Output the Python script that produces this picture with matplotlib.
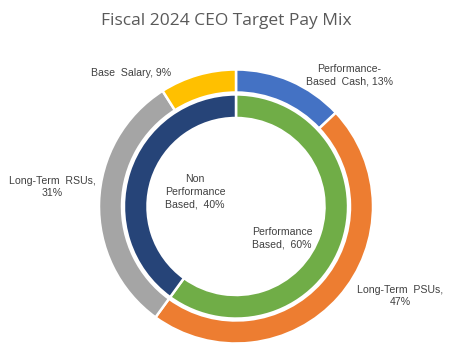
import matplotlib
matplotlib.use("Agg")
import matplotlib.pyplot as plt

# outer ring: pay elements
outer_labels = ["Performance-\nBased  Cash,", "Long-Term  PSUs,\n", "Long-Term  RSUs,\n", "Base  Salary,"]
outer_values = [13, 47, 31, 9]
outer_colors = ["#4472C4", "#ED7D31", "#A5A5A5", "#FFC000"]

# inner ring: performance split
inner_labels = ["Performance\nBased,", "Non\nPerformance\nBased,"]
inner_values = [60, 40]
inner_colors = ["#70AD47", "#264478"]

# label spots (data units)
outer_pos = [(0.825, 0.96), (1.197, -0.653), (-1.343, 0.142), (-0.766, 0.974)]
inner_pos = [(0.336, -0.23), (-0.299, 0.106)]

fig = plt.figure(figsize=(4.5, 3.6), dpi=100)

# pixel geometry of the donut
cx, cy, R = 236, 360 - 206.5, 137
ax = fig.add_axes([(cx - R) / 450, (cy - R) / 360, 2 * R / 450, 2 * R / 360])

ax.pie(outer_values, colors=outer_colors, radius=1.0, startangle=90, counterclock=False,
       wedgeprops=dict(width=0.168, edgecolor="white", linewidth=1.8))
ax.pie(inner_values, colors=inner_colors, radius=0.818, startangle=90, counterclock=False,
       wedgeprops=dict(width=0.172, edgecolor="white", linewidth=1.8))
ax.set_xlim(-1, 1)
ax.set_ylim(-1, 1)
ax.set_aspect("equal")
ax.axis("off")

txt = dict(color="#404040", fontsize=7.6, ha="center", va="center",
           family="Liberation Sans", linespacing=1.35, clip_on=False)

for lab, val, (x, y) in zip(outer_labels, outer_values, outer_pos):
    sep = "" if lab.endswith("\n") else " "
    ax.text(x, y, f"{lab}{sep}{val}%", **txt)
for lab, val, (x, y) in zip(inner_labels, inner_values, inner_pos):
    ax.text(x, y, f"{lab}  {val}%", **txt)

fig.text(0.504, 0.942, "Fiscal 2024 CEO Target Pay Mix", ha="center", va="center",
         fontsize=12.5, color="#595959", family="Open Sans")

fig.savefig("out.png", dpi=100, facecolor="white")
